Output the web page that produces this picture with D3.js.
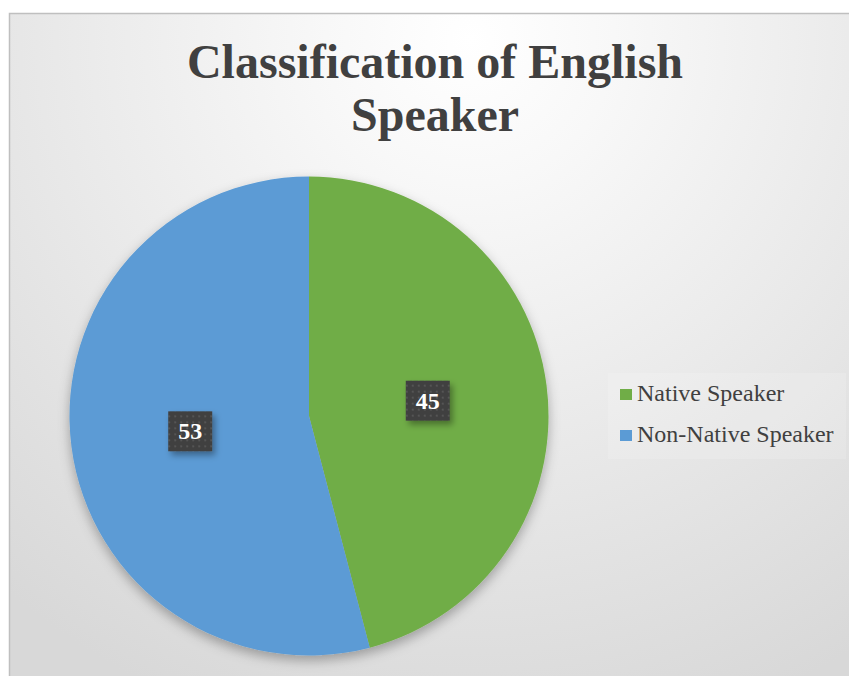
<!DOCTYPE html>
<html><head><meta charset="utf-8">
<script src="https://cdn.jsdelivr.net/npm/d3@7"></script>
<style>html,body{margin:0;padding:0;background:#fff;}svg{display:block;}</style>
</head><body>
<svg id="chart" width="849" height="676"></svg>
<script>
const categories = ["Native Speaker", "Non-Native Speaker"];
const values = [45, 53];
const colors = ["#70ad47", "#5b9bd5"];
const titleLines = ["Classification of English", "Speaker"];

const svg = d3.select("#chart");
const defs = svg.append("defs");
const bg = defs.append("radialGradient").attr("id","bg")
  .attr("gradientUnits","userSpaceOnUse").attr("cx",470).attr("cy",40).attr("r",720);
bg.append("stop").attr("offset","0").attr("stop-color","#ffffff");
bg.append("stop").attr("offset","0.2").attr("stop-color","#f8f8f8");
bg.append("stop").attr("offset","1").attr("stop-color","#d8d8d8");

const sh = defs.append("filter").attr("id","pieShadow").attr("x","-20%").attr("y","-20%").attr("width","140%").attr("height","140%");
sh.append("feDropShadow").attr("dx",0).attr("dy",5).attr("stdDeviation",6).attr("flood-color","#000").attr("flood-opacity",0.3);
const lsh = defs.append("filter").attr("id","lblShadow").attr("x","-30%").attr("y","-30%").attr("width","170%").attr("height","170%");
lsh.append("feDropShadow").attr("dx",3).attr("dy",4).attr("stdDeviation",3).attr("flood-color","#000").attr("flood-opacity",0.35);

const pat = defs.append("pattern").attr("id","dots").attr("patternUnits","userSpaceOnUse")
  .attr("width",6).attr("height",6);
pat.append("rect").attr("width",6).attr("height",6).attr("fill","#3f3f3f");
pat.append("rect").attr("x",2).attr("y",2).attr("width",2).attr("height",2).attr("fill","#555555");

svg.append("rect").attr("x",9.5).attr("y",13.5).attr("width",870).attr("height",700)
  .attr("fill","url(#bg)").attr("stroke","#bfbfbf").attr("stroke-width",1.5);

// title
svg.append("g").selectAll("text").data(titleLines).join("text")
  .attr("x",435).attr("y",(d,i)=>78 + i*53)
  .attr("text-anchor","middle")
  .attr("font-family","'Liberation Serif','Times New Roman',serif")
  .attr("font-weight","bold").attr("font-size",48)
  .attr("fill","#404040").text(d=>d);

// pie
const cx = 309, cy = 416, r = 239.5;
const pie = d3.pie().sort(null).value(d=>d.v);
const data = categories.map((c,i)=>({c, v: values[i], col: colors[i]}));
const arcs = pie(data);
const arc = d3.arc().innerRadius(0).outerRadius(r);
const labelArc = d3.arc().innerRadius(r/2).outerRadius(r/2);
const g = svg.append("g").attr("transform",`translate(${cx},${cy})`);
g.append("g").attr("filter","url(#pieShadow)").selectAll("path").data(arcs).join("path")
  .attr("d",arc).attr("fill",d=>d.data.col);

const lg = g.selectAll("g.lbl").data(arcs).join("g").attr("class","lbl")
  .attr("transform",d=>{const [x,y]=labelArc.centroid(d); return `translate(${x},${y})`;});
lg.append("rect").attr("x",-22).attr("y",-20).attr("width",44).attr("height",40)
  .attr("fill","url(#dots)").attr("filter","url(#lblShadow)");
lg.append("text").attr("text-anchor","middle").attr("y",8)
  .attr("font-family","'Liberation Serif','Times New Roman',serif")
  .attr("font-weight","bold").attr("font-size",24).attr("fill","#ffffff")
  .text(d=>d.data.v);

// legend
const leg = svg.append("g");
leg.append("rect").attr("x",608).attr("y",373).attr("width",238).attr("height",86)
  .attr("fill","#ffffff").attr("opacity",0.15);
const li = leg.selectAll("g.li").data(data).join("g").attr("class","li")
  .attr("transform",(d,i)=>`translate(620,${389 + i*41})`);
li.append("rect").attr("width",12).attr("height",11).attr("fill",d=>d.col);
li.append("text").attr("x",17).attr("y",12)
  .attr("font-family","'Liberation Serif','Times New Roman',serif")
  .attr("font-size",24).attr("fill","#404040").text(d=>d.c);
</script>
</body></html>
